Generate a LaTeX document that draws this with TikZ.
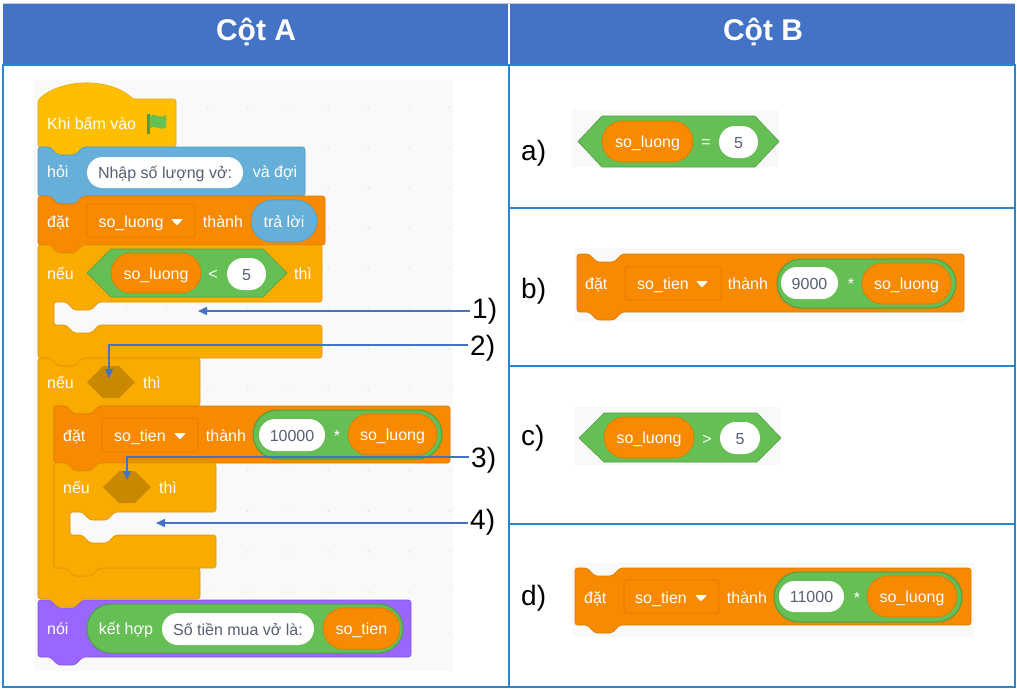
\documentclass[tikz,border=0pt]{standalone}
\usepackage{fontspec}
\setmainfont{Liberation Sans}
\usetikzlibrary{arrows.meta,shapes.misc}

\definecolor{headblue}{HTML}{4472C4}
\definecolor{gridblue}{HTML}{2A85CC}
\definecolor{panelgray}{HTML}{F9F9F9}
\definecolor{dotgray}{HTML}{E4E4E4}
\definecolor{hatyellow}{HTML}{FFBF00}
\definecolor{hatedge}{HTML}{E0A800}
\definecolor{askblue}{HTML}{66AFD8}
\definecolor{askedge}{HTML}{4F9CC8}
\definecolor{varorange}{HTML}{F78A00}
\definecolor{varedge}{HTML}{DB7A00}
\definecolor{ctrlyellow}{HTML}{FAAB00}
\definecolor{ctrledge}{HTML}{DC9600}
\definecolor{holebrown}{HTML}{C88900}
\definecolor{opgreen}{HTML}{66BF55}
\definecolor{opedge}{HTML}{4F9E45}
\definecolor{saypurple}{HTML}{9966FF}
\definecolor{sayedge}{HTML}{8455E0}
\definecolor{inktext}{HTML}{575E75}

\tikzset{
    tile/.style={line width=0.6pt, rounded corners=2.5pt},
    hatblock/.style={tile, fill=hatyellow, draw=hatedge},
    askblock/.style={tile, fill=askblue, draw=askedge},
    varblock/.style={tile, fill=varorange, draw=varedge},
    ctrlblock/.style={tile, fill=ctrlyellow, draw=ctrledge},
    sayblock/.style={tile, fill=saypurple, draw=sayedge},
    hexgreen/.style={fill=opgreen, draw=opedge, line width=0.6pt},
    hexhole/.style={fill=holebrown},
    chip/.style={rounded rectangle, inner sep=0pt, line width=0.6pt, font=\blockfont, text height=12pt, text depth=0pt},
    whitepill/.style={chip, fill=white, text=inktext},
    orangepill/.style={chip, fill=varorange, draw=varedge, text=white},
    greenpill/.style={chip, fill=opgreen, draw=opedge, line width=1pt},
    bluepill/.style={chip, fill=askblue, draw=askedge, text=white},
    menubox/.style={rounded corners=2.5pt, fill=varorange, draw=varedge, line width=0.6pt},
    word/.style={inner sep=0pt, text=white, font=\blockfont, text height=11pt, text depth=1pt},
    bigmark/.style={inner sep=0pt, font=\fontsize{28}{30}\selectfont, text height=20pt, text depth=6pt},
    headword/.style={inner sep=0pt, text=white, font=\fontsize{30}{32}\selectfont\bfseries, text height=24pt, text depth=0pt},
    callout/.style={headblue, line width=1.5pt, -{Triangle[length=9pt,width=8pt]}}
}
\newcommand{\blockfont}{\fontsize{16}{18}\selectfont}

% statement block: style, left, right, top, bottom
\newcommand{\stackblock}[5]{
    \draw[#1] (#2,#4) -- ({#2+12},#4) -- ({#2+20},{#4+8}) -- ({#2+37},{#4+8}) -- ({#2+45},#4)
        -- (#3,#4) -- (#3,#5) -- ({#2+45},#5) -- ({#2+37},{#5+8}) -- ({#2+20},{#5+8})
        -- ({#2+12},#5) -- (#2,#5) -- cycle;
}
% c-block: style, left, right, top, head bottom, arm top, bottom
\newcommand{\capblock}[7]{
    \draw[#1] (#2,#4) -- ({#2+12},#4) -- ({#2+20},{#4+8}) -- ({#2+37},{#4+8}) -- ({#2+45},#4)
        -- (#3,#4) -- (#3,#5) -- ({#2+61},#5) -- ({#2+53},{#5+8}) -- ({#2+36},{#5+8})
        -- ({#2+28},#5) -- ({#2+16},#5) -- ({#2+16},#6) -- ({#2+28},#6) -- ({#2+36},{#6+8})
        -- ({#2+53},{#6+8}) -- ({#2+61},#6) -- (#3,#6) -- (#3,#7) -- ({#2+45},#7)
        -- ({#2+37},{#7+8}) -- ({#2+20},{#7+8}) -- ({#2+12},#7) -- (#2,#7) -- cycle;
}
% pill node: style, name, x1, x2, y1, y2, text
\newcommand{\pill}[7]{
    \node[#1, minimum width={(#4-#3)*1pt}, minimum height={(#6-#5)*1pt}] (#2)
        at ({(#3+#4)/2},{(#5+#6)/2}) {#7};
}
\newcommand{\caret}[2]{
    \fill[white, rounded corners=1pt] ({#1-6},{#2-3}) -- ({#1+6},{#2-3}) -- (#1,{#2+3.5}) -- cycle;
}

\begin{document}
\begin{tikzpicture}[x=1pt, y=-1pt]
    \useasboundingbox (0,0) rectangle (1017,688);

    % table
    \fill[headblue] (3,3) rectangle (508,65);
    \fill[headblue] (510,3) rectangle (1015,65);
    \draw[gray!40, line width=0.8pt] (3,3) -- (1015,3);
    \node[headword] (heada) at (256,28) {Cột A};
    \node[headword] (headb) at (763,28) {Cột B};
    \draw[gridblue, line width=1.2pt] (3,65) rectangle (1015,687);
    \draw[gridblue, line width=1.2pt] (509,65) -- (509,687);
    \foreach \j in {208,366,524}
        \draw[gridblue, line width=1.2pt] (509,\j) -- (1015,\j);

    % backdrops of the screenshots
    \fill[panelgray] (34,80) rectangle (453,671);
    \foreach \i in {0,...,9}
        \foreach \j in {0,...,13}
            \fill[dotgray] ({86+40.4*\i},{107+40.4*\j}) circle (0.9pt);
    \fill[panelgray] (572,110) rectangle (779,167);
    \fill[panelgray] (574,248) rectangle (965,322);
    \fill[panelgray] (574,407) rectangle (781,465);
    \fill[panelgray] (572,563) rectangle (974,637);

    % hat block
    \draw[hatblock] (38,147) -- (38,100) .. controls (62,78) and (110,78) .. (133,99)
        -- (176,99) -- (176,147) -- (83,147) -- (75,155) -- (58,155) -- (50,147) -- cycle;
    \node[word, anchor=west] (hatword) at (47,124) {Khi bấm vào};
    \fill[opgreen!80!black] (147,114) rectangle (149.5,134);
    \fill[opgreen] (149.5,116) .. controls (155,112) and (160,120) .. (166,115)
        -- (166,127) .. controls (160,132) and (155,124) .. (149.5,128) -- cycle;

    % ask block
    \stackblock{askblock}{38}{305}{147}{196}
    \node[word, anchor=west] (askword) at (47,172) {hỏi};
    \pill{whitepill}{askpill}{87}{243}{157}{188}{Nhập số lượng vở:}
    \node[word] (askwait) at (275,172) {và đợi};

    % set so_luong
    \stackblock{varblock}{38}{325}{196}{245}
    \node[word, anchor=west] (setwordone) at (47,222) {đặt};
    \draw[menubox] (87,204) rectangle (195,237);
    \node[word] (setmenuone) at (131,222) {so\_luong};
    \caret{177}{222}
    \node[word] (settoone) at (223,222) {thành};
    \pill{bluepill}{answerpill}{251}{317}{200}{242}{trả lời}

    % first if
    \capblock{ctrlblock}{38}{322}{245}{302}{325}{358}
    \node[word, anchor=west] (ifwordone) at (47,274) {nếu};
    \draw[hexgreen] (87,273) -- (111,249) -- (263,249) -- (287,273) -- (263,297) -- (111,297) -- cycle;
    \pill{orangepill}{ifluong}{111}{201}{253}{293}{so\_luong}
    \node[word] (ifless) at (213,274) {<};
    \pill{whitepill}{iffive}{227}{266}{258}{290}{5}
    \node[word] (ifthenone) at (303,274) {thì};

    % second if
    \capblock{ctrlblock}{38}{200}{358}{406}{568}{599}
    \node[word, anchor=west] (ifwordtwo) at (47,383) {nếu};
    \fill[hexhole] (87,382) -- (103,366) -- (119,366) -- (135,382) -- (119,398) -- (103,398) -- cycle;
    \node[word] (ifthentwo) at (152,383) {thì};

    % set so_tien
    \stackblock{varblock}{54}{450}{406}{463}
    \node[word, anchor=west] (setwordtwo) at (63,436) {đặt};
    \draw[menubox] (102,418) rectangle (198,452);
    \node[word] (setmenutwo) at (140,436) {so\_tien};
    \caret{180}{436}
    \node[word] (settotwo) at (226,436) {thành};
    \pill{greenpill}{mulbase}{253}{442}{410}{459}{}
    \pill{whitepill}{mulprice}{259}{325}{419}{451}{10000}
    \node[word] (multimes) at (337,436) {*};
    \pill{orangepill}{mulluong}{348}{437}{414}{455}{so\_luong}

    % third if
    \capblock{ctrlblock}{54}{216}{463}{512}{535}{568}
    \node[word, anchor=west] (ifwordthree) at (63,488) {nếu};
    \fill[hexhole] (103,487) -- (119,471) -- (135,471) -- (151,487) -- (135,503) -- (119,503) -- cycle;
    \node[word] (ifthenthree) at (168,488) {thì};

    % say block
    \stackblock{sayblock}{38}{411}{600}{657}
    \node[word, anchor=west] (sayword) at (47,629) {nói};
    \pill{greenpill}{joinbase}{87}{403}{604}{653}{}
    \node[word] (joinword) at (126,629) {kết hợp};
    \pill{whitepill}{jointext}{162}{314}{613}{645}{Số tiền mua vở là:}
    \pill{orangepill}{jointien}{323}{400}{608}{649}{so\_tien}

    % callouts
    \node[bigmark, anchor=west] (markone) at (472,311) {1)};
    \node[bigmark, anchor=west] (marktwo) at (470,348) {2)};
    \node[bigmark, anchor=west] (markthree) at (471,460) {3)};
    \node[bigmark, anchor=west] (markfour) at (470,522) {4)};
    \coordinate (tipone) at (198,311);
    \coordinate (tiptwo) at (109,378);
    \coordinate (tipthree) at (127,480);
    \coordinate (tipfour) at (156,523);
    \draw[callout] (markone.west) ++(-2,0) -- (tipone);
    \draw[callout] (marktwo.west) ++(-2,-3) -| (tiptwo);
    \draw[callout] (markthree.west) ++(-2,-3) -| (tipthree);
    \draw[callout] (markfour.west) ++(-2,1) -- (tipfour);

    % answer a
    \node[bigmark, anchor=west] (marka) at (521,153) {a)};
    \draw[hexgreen] (578,141.5) -- (602,116) -- (755,116) -- (779,141.5) -- (755,167) -- (602,167) -- cycle;
    \pill{orangepill}{aluong}{602}{693}{121}{162}{so\_luong}
    \node[word] (aequal) at (706,142) {=};
    \pill{whitepill}{afive}{719}{758}{126}{158}{5}

    % answer b
    \node[bigmark, anchor=west] (markb) at (521,291) {b)};
    \stackblock{varblock}{577}{964}{254}{312}
    \node[word, anchor=west] (bword) at (585,284) {đặt};
    \draw[menubox] (625,267) rectangle (721,300);
    \node[word] (bmenu) at (663,284) {so\_tien};
    \caret{702}{284}
    \node[word] (bto) at (748,284) {thành};
    \pill{greenpill}{bbase}{777}{956}{259}{308}{}
    \pill{whitepill}{bprice}{781}{838}{267}{299}{9000}
    \node[word] (btimes) at (851,284) {*};
    \pill{orangepill}{bluong}{862}{951}{263}{304}{so\_luong}

    % answer c
    \node[bigmark, anchor=west] (markc) at (521,438) {c)};
    \draw[hexgreen] (579,438) -- (604,413) -- (757,413) -- (781,438) -- (757,462) -- (604,462) -- cycle;
    \pill{orangepill}{cluong}{604}{694}{417}{458}{so\_luong}
    \node[word] (cmore) at (707,439) {>};
    \pill{whitepill}{cfive}{720}{760}{422}{454}{5}

    % answer d
    \node[bigmark, anchor=west] (markd) at (521,598) {d)};
    \stackblock{varblock}{575}{971}{568}{625}
    \node[word, anchor=west] (dword) at (584,598) {đặt};
    \draw[menubox] (624,580) rectangle (719,613);
    \node[word] (dmenu) at (661,598) {so\_tien};
    \caret{701}{598}
    \node[word] (dto) at (747,598) {thành};
    \pill{greenpill}{dbase}{774}{962}{572}{622}{}
    \pill{whitepill}{dprice}{779}{844}{581}{612}{11000}
    \node[word] (dtimes) at (857,598) {*};
    \pill{orangepill}{dluong}{867}{957}{576}{617}{so\_luong}
\end{tikzpicture}
\end{document}
